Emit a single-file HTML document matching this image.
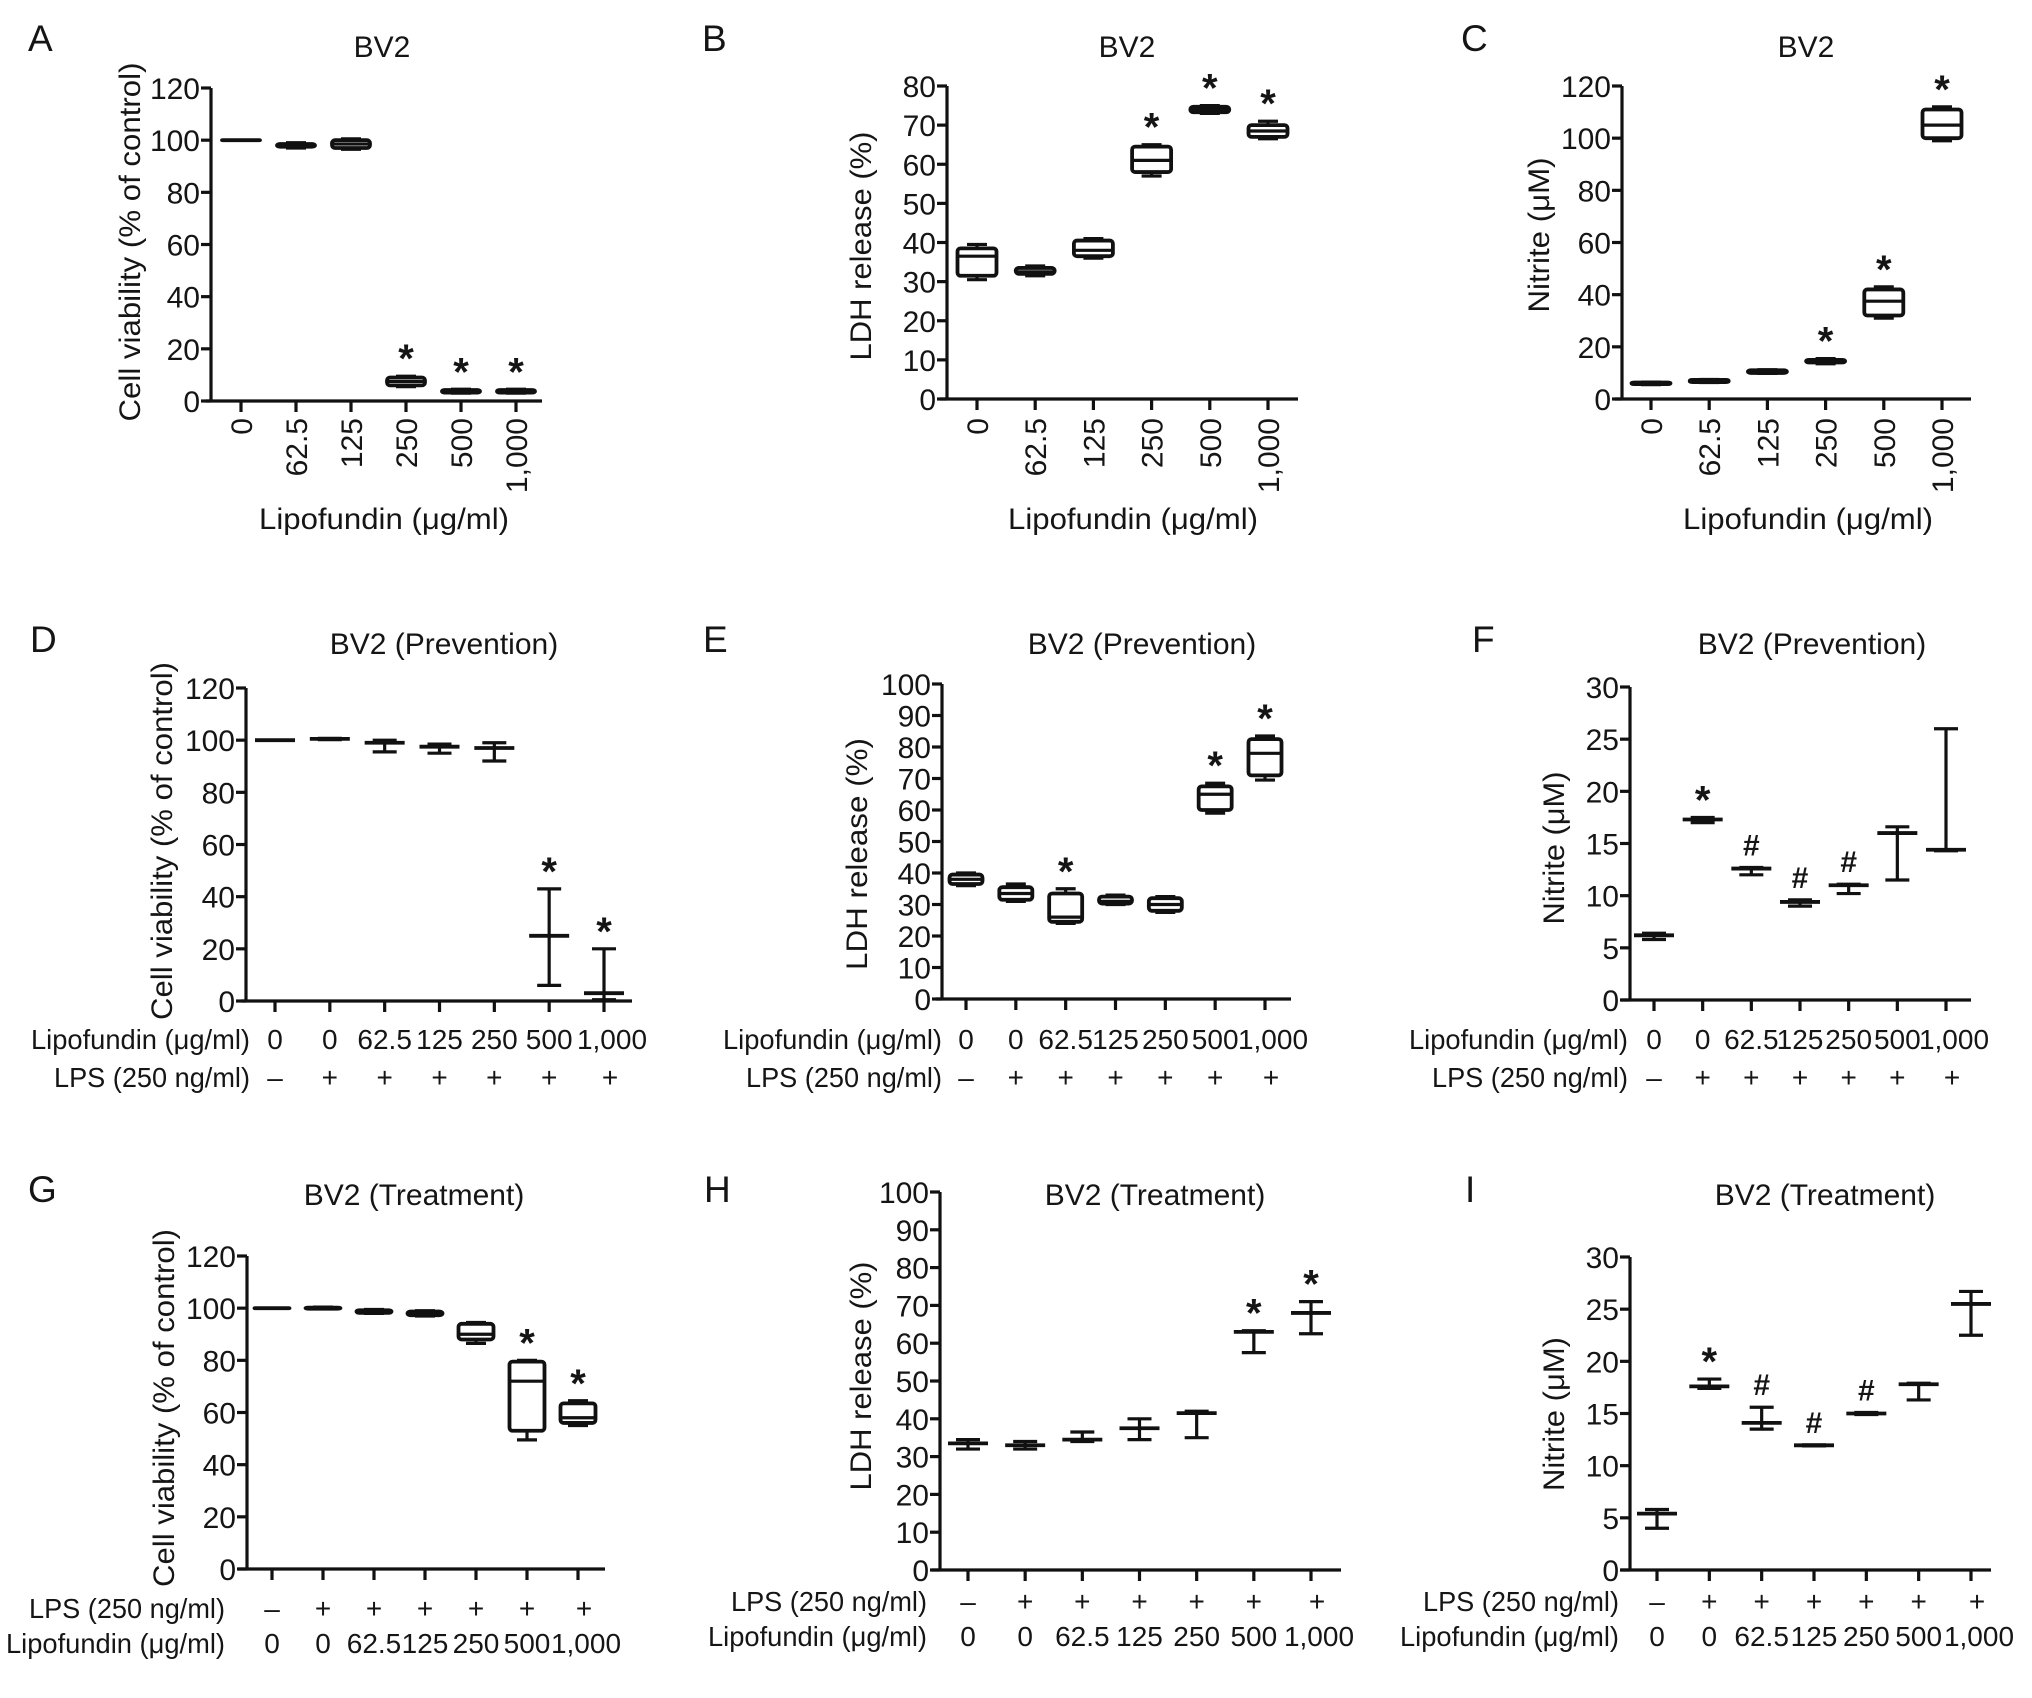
<!DOCTYPE html>
<html><head><meta charset="utf-8"><style>
html,body{margin:0;padding:0;background:#fff;}
svg{display:block;font-family:"Liberation Sans",Arial,sans-serif;}
text{fill:#151515;}
</style></head><body>
<svg id="fig" width="2032" height="1698" viewBox="0 0 2032 1698" xmlns="http://www.w3.org/2000/svg"></svg>
<script>
// ---------- DATA ----------
const catsABC = ["0","62.5","125","250","500","1,000"];
const catsLipo7 = ["0","0","62.5","125","250","500","1,000"];
const catsLPS7 = ["\u2013","+","+","+","+","+","+"];
const yTicksA = [0,20,40,60,80,100,120];
const yTicksB = [0,10,20,30,40,50,60,70,80];
const yTicksE = [0,10,20,30,40,50,60,70,80,90,100];
const yTicksF = [0,5,10,15,20,25,30];

const A_lo  = [100, 97, 96.5, 5.5, 3, 3];
const A_q1  = [100, 97.5, 97, 6, 3.2, 3.2];
const A_med = [100, 98, 98.5, 7.5, 3.7, 3.7];
const A_q3  = [100, 98.5, 100, 9, 4.2, 4.2];
const A_hi  = [100, 99, 100.5, 9.5, 4.5, 4.5];
const A_sig = ["","","","*","*","*"];
const B_lo  = [30.5, 31.5, 36, 57, 73, 66.5];
const B_q1  = [31.5, 32, 36.5, 58, 73.3, 67];
const B_med = [36.5, 32.5, 38, 61, 74, 68.5];
const B_q3  = [38.5, 33.5, 40.5, 64.5, 74.7, 70];
const B_hi  = [39.5, 34, 41, 65, 75, 71];
const B_sig = ["","","","*","*","*"];
const C_lo  = [5.5, 6.3, 9.8, 13.5, 31, 99];
const C_q1  = [5.7, 6.5, 10, 14, 32, 100];
const C_med = [6, 7, 10.5, 14.5, 37.5, 105];
const C_q3  = [6.3, 7.3, 11, 15, 42, 111];
const C_hi  = [6.5, 7.5, 11.2, 15.5, 43, 112];
const C_sig = ["","","","*","*","*"];
const D_lo  = [100, 100.2, 95.5, 95, 92, 6, 0.5];
const D_med = [100, 100.5, 99, 97.5, 97, 25, 3];
const D_hi  = [100, 100.7, 100, 98.5, 99, 43, 20];
const D_sig = ["","","","","","*","*"];
const E_lo  = [36, 31, 24, 30, 27.5, 59, 69.5];
const E_q1  = [36.5, 31.5, 24.5, 30.3, 28, 60, 71];
const E_med = [38, 33.5, 26, 31, 30, 65, 78];
const E_q3  = [39.5, 35.5, 33.5, 32.5, 32, 67.5, 82.5];
const E_hi  = [40, 36.5, 35, 33, 32.5, 68.5, 83.5];
const E_sig = ["","","*","","","*","*"];
const F_lo  = [5.8, 17, 12, 9, 10.2, 11.5, 14.3];
const F_med = [6.2, 17.3, 12.6, 9.4, 11, 16, 14.4];
const F_hi  = [6.4, 17.5, 12.7, 9.6, 11.1, 16.6, 26];
const F_sig = ["","*","#","#","#","",""];
const G_lo  = [100, 99.7, 98, 97, 86.5, 49.5, 55];
const G_q1  = [100, 99.8, 98.2, 97.3, 88, 53, 56];
const G_med = [100, 100, 98.5, 98, 90, 72, 58];
const G_q3  = [100, 100.2, 99.2, 98.7, 94, 79.5, 63.5];
const G_hi  = [100, 100.4, 99.5, 99, 94.5, 80, 64.5];
const G_sig = ["","","","","","*","*"];
const H_lo  = [32, 32, 34, 34.5, 35, 57.5, 62.5];
const H_med = [33.5, 33, 34.5, 37.5, 41.5, 63, 68];
const H_hi  = [34.5, 34, 36.5, 40, 42, 63.3, 71];
const H_sig = ["","","","","","*","*"];
const I_lo  = [4, 17.4, 13.5, 11.9, 14.9, 16.3, 22.5];
const I_med = [5.4, 17.6, 14.1, 11.95, 15, 17.8, 25.5];
const I_hi  = [5.8, 18.3, 15.6, 12, 15.1, 17.9, 26.7];
const I_sig = ["","*","#","#","#","",""];

// ---------- DRAW ----------
const NS = "http://www.w3.org/2000/svg";
const svg = document.getElementById("fig");
function mk(tag, attrs, parent) {
  const e = document.createElementNS(NS, tag);
  for (const k in attrs) e.setAttribute(k, attrs[k]);
  (parent || svg).appendChild(e);
  return e;
}
function txt(s, attrs, parent) { const t = mk("text", attrs, parent); t.textContent = s; return t; }
function line(x1,y1,x2,y2,g){ return mk("line",{x1:x1,y1:y1,x2:x2,y2:y2,stroke:"#111","stroke-width":3.2},g); }

function panel(cfg, cats, ticks, vmax, series, sig) {
  const g = mk("g", {});
  
  
  const ys = v => cfg.y0 - v * (cfg.y0 - cfg.yT) / vmax;
  const n = cats.length;
  const xs = i => cfg.c0 + i * (cfg.c1 - cfg.c0) / (n - 1);

  const L = txt(cfg.letter, {x:cfg.lx, y:cfg.ly, "font-size":37}, g);
  
  
  const T = txt(cfg.title, {x:cfg.tx, y:cfg.ty, "font-size":30, "text-anchor":"middle"}, g);
  
  

  const ya = line(cfg.ax, cfg.yT, cfg.ax, cfg.y0 + 1.5, g);
  
  
  const xa = line(cfg.xs, cfg.y0, cfg.xe, cfg.y0, g);
  
  
  ticks.forEach(v => {
    const y = ys(v);
    line(cfg.ax - 10, y, cfg.ax, y, g);
    const t = txt(String(v), {x:cfg.ax - 11, y:y + 11, "font-size":30, "text-anchor":"end"}, g);
    
    
  });
  for (let i = 0; i < n; i++) line(xs(i), cfg.y0, xs(i), cfg.y0 + 11, g);

  const yt = txt(cfg.ytitle, {x:0, y:0, "font-size":30, "text-anchor":"middle",
    transform:"translate(" + (cfg.ytx + 11) + "," + cfg.yty + ") rotate(-90)", textLength:cfg.ytl, lengthAdjust:"spacingAndGlyphs"}, g);
  
  

  if (cfg.rot) {
    cats.forEach((c, i) => {
      const t = txt(c, {x:0, y:0, "font-size":30, "text-anchor":"end",
        transform:"translate(" + (xs(i) + 11) + "," + 418 + ") rotate(-90)"}, g);
      
      
    });
    const xt = txt("Lipofundin (\u03bcg/ml)", {x:cfg.xtx, y:529, "font-size":30, "text-anchor":"middle", textLength:250, lengthAdjust:"spacingAndGlyphs"}, g);
    
    
  } else {
    cfg.rows.forEach(r => {
      const lab = txt(r.label, {x:cfg.rowEnd, y:r.y, "font-size":28, "text-anchor":"end", textLength:r.tl, lengthAdjust:"spacingAndGlyphs"}, g);
      
      
      r.vals.forEach((v, i) => {
        let x = xs(i);
        if (r.name === "lipofundin" && i === n - 1) x += 8;
        if (r.name === "lps" && i === n - 1) x += 6;
        const t = txt(v, {x:x, y:r.y, "font-size":28, "text-anchor":"middle"}, g);
        
        
      });
    });
  }

  for (let i = 0; i < n; i++) {
    const x = xs(i);
    const mg = mk("g", {}, g);
    
    
    const lo = ys(series.lo[i]), hi = ys(series.hi[i]), md = ys(series.med[i]);
    if (series.q1) {
      const q1 = ys(series.q1[i]), q3 = ys(series.q3[i]);
      const w = cfg.bw;
      line(x, lo, x, q1, mg); line(x, q3, x, hi, mg);
      line(x - 10, lo, x + 10, lo, mg); line(x - 10, hi, x + 10, hi, mg);
      const h = Math.max(q1 - q3, 0.1);
      mk("rect", {x:x - w/2, y:q3, width:w, height:h, rx:3, fill:"#fff", stroke:"#111", "stroke-width":3.8}, mg);
      line(x - w/2, md, x + w/2, md, mg);
    } else {
      line(x, lo, x, hi, mg);
      line(x - 12, lo, x + 12, lo, mg);
      line(x - 12, hi, x + 12, hi, mg);
      const ml = line(x - 20, md, x + 20, md, mg);
      ml.setAttribute("stroke-width", 3.8);
    }
    if (sig[i]) {
      const star = sig[i] === "*";
      const s = txt(sig[i], {x:x, y: star ? hi - 4 : hi - 12, "font-size": star ? 40 : 30,
        "font-weight":"bold", "text-anchor":"middle"}, g);
      
      
    }
  }
}

const rowsPrev = () => [
  {name:"lipofundin", label:"Lipofundin (\u03bcg/ml)", y:1049, tl:219, vals:catsLipo7},
  {name:"lps", label:"LPS (250 ng/ml)", y:1087, tl:196, vals:catsLPS7}];
const rowsTreat = (y1, y2) => [
  {name:"lps", label:"LPS (250 ng/ml)", y:y1, tl:196, vals:catsLPS7},
  {name:"lipofundin", label:"Lipofundin (\u03bcg/ml)", y:y2, tl:219, vals:catsLipo7}];

panel({letter:"A", lx:28, ly:51, title:"BV2", tx:382, ty:57, ax:211, y0:401, yT:88, xs:206, xe:542,
  c0:241, c1:516, ytitle:"Cell viability (% of control)", ytx:129, yty:242, ytl:359, rot:true, xtx:384, bw:38},
  catsABC, yTicksA, 120, {lo:A_lo,q1:A_q1,med:A_med,q3:A_q3,hi:A_hi}, A_sig);
panel({letter:"B", lx:702, ly:51, title:"BV2", tx:1127, ty:57, ax:947, y0:399, yT:86, xs:940, xe:1298,
  c0:977, c1:1268, ytitle:"LDH release (%)", ytx:860, yty:246, ytl:229, rot:true, xtx:1133, bw:39},
  catsABC, yTicksB, 80, {lo:B_lo,q1:B_q1,med:B_med,q3:B_q3,hi:B_hi}, B_sig);
panel({letter:"C", lx:1461, ly:51, title:"BV2", tx:1806, ty:57, ax:1622, y0:399, yT:86, xs:1615, xe:1971,
  c0:1651, c1:1942, ytitle:"Nitrite (\u03bcM)", ytx:1538, yty:235, ytl:155, rot:true, xtx:1808, bw:39},
  catsABC, yTicksA, 120, {lo:C_lo,q1:C_q1,med:C_med,q3:C_q3,hi:C_hi}, C_sig);

panel({letter:"D", lx:30, ly:652, title:"BV2 (Prevention)", tx:444, ty:654, ax:246, y0:1001, yT:688, xs:241, xe:632,
  c0:275, c1:604, ytitle:"Cell viability (% of control)", ytx:161, yty:841, ytl:358, rot:false, rowEnd:250, rows:rowsPrev()},
  catsLipo7, yTicksA, 120, {lo:D_lo,med:D_med,hi:D_hi}, D_sig);
panel({letter:"E", lx:703, ly:652, title:"BV2 (Prevention)", tx:1142, ty:654, ax:942, y0:999, yT:684, xs:936, xe:1291,
  c0:966, c1:1265, ytitle:"LDH release (%)", ytx:856, yty:854, ytl:232, rot:false, rowEnd:942, rows:rowsPrev(), bw:33},
  catsLipo7, yTicksE, 100, {lo:E_lo,q1:E_q1,med:E_med,q3:E_q3,hi:E_hi}, E_sig);
panel({letter:"F", lx:1472, ly:652, title:"BV2 (Prevention)", tx:1812, ty:654, ax:1630, y0:1000, yT:687, xs:1621, xe:1971,
  c0:1654, c1:1946, ytitle:"Nitrite (\u03bcM)", ytx:1553, yty:848, ytl:153, rot:false, rowEnd:1628, rows:rowsPrev()},
  catsLipo7, yTicksF, 30, {lo:F_lo,med:F_med,hi:F_hi}, F_sig);

panel({letter:"G", lx:28, ly:1202, title:"BV2 (Treatment)", tx:414, ty:1205, ax:247, y0:1569, yT:1256, xs:238, xe:605,
  c0:272, c1:578, ytitle:"Cell viability (% of control)", ytx:163, yty:1408, ytl:358, rot:false, rowEnd:225, rows:rowsTreat(1618,1653), bw:35},
  catsLipo7, yTicksA, 120, {lo:G_lo,q1:G_q1,med:G_med,q3:G_q3,hi:G_hi}, G_sig);
panel({letter:"H", lx:704, ly:1202, title:"BV2 (Treatment)", tx:1155, ty:1205, ax:940, y0:1570, yT:1192, xs:932, xe:1341,
  c0:968, c1:1311, ytitle:"LDH release (%)", ytx:860, yty:1376, ytl:229, rot:false, rowEnd:927, rows:rowsTreat(1611,1646)},
  catsLipo7, yTicksE, 100, {lo:H_lo,med:H_med,hi:H_hi}, H_sig);
panel({letter:"I", lx:1465, ly:1202, title:"BV2 (Treatment)", tx:1825, ty:1205, ax:1630, y0:1570, yT:1257, xs:1621, xe:1991,
  c0:1657, c1:1971, ytitle:"Nitrite (\u03bcM)", ytx:1553, yty:1414, ytl:154, rot:false, rowEnd:1619, rows:rowsTreat(1611,1646)},
  catsLipo7, yTicksF, 30, {lo:I_lo,med:I_med,hi:I_hi}, I_sig);
</script>
</body></html>
